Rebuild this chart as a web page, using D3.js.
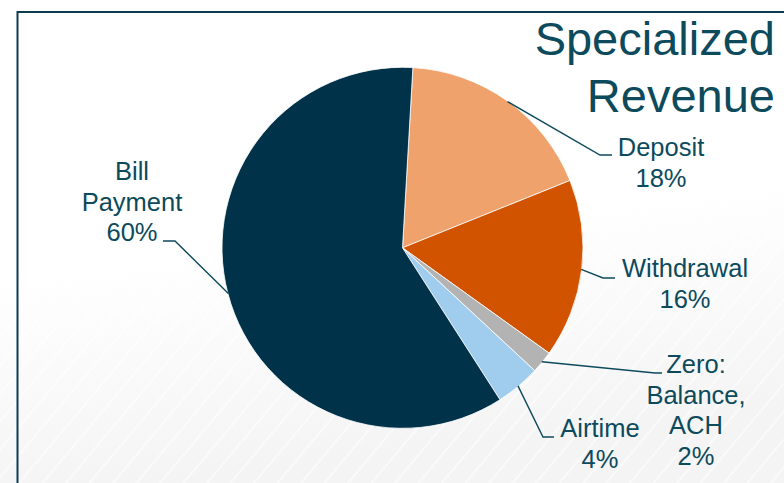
<!DOCTYPE html>
<html>
<head>
<meta charset="utf-8">
<script src="https://cdn.jsdelivr.net/npm/d3@7/dist/d3.min.js"></script>
<style>
  html, body { margin: 0; padding: 0; background: #ffffff; }
  svg { display: block; }
  text { font-family: "Liberation Sans", Arial, sans-serif; }
</style>
</head>
<body>
<svg id="chart" width="784" height="483"></svg>
<script>
// Revenue mix by category (percent of specialized revenue)
const categories = ["Deposit", "Withdrawal", "Zero: Balance, ACH", "Airtime", "Bill Payment"];
const shares = [18, 16, 2, 4, 60];
const labelLines = [["Deposit"], ["Withdrawal"], ["Zero:", "Balance,", "ACH"], ["Airtime"], ["Bill", "Payment"]];
const titleLines = ["Specialized", "Revenue"];

// Styling and layout
const sliceColors = ["#f0a26c", "#d15300", "#b3b3b3", "#a0cdee", "#003349"];
const inkColor = "#0c4a5c";
const width = 784, height = 483;
const cx = 402.5, cy = 247.8, radius = 180.5;
const startOffset = 3.3 * Math.PI / 180;
const lineHeight = 30.5;

// Label placement: text centre, first baseline, leader elbow and leader end
const labelLayout = [
  { x: 661, y: 156, elbow: [600, 155], end: [612, 155] },
  { x: 685, y: 277, elbow: [603, 278], end: [615, 278] },
  { x: 696, y: 373, elbow: [655, 373], end: [662, 373] },
  { x: 600, y: 437, elbow: [543, 437], end: [554, 437] },
  { x: 132, y: 180, elbow: [175, 241], end: [163, 241] }
];

const svg = d3.select("#chart");
const defs = svg.append("defs");

// Soft grey fade toward the bottom with faint diagonal stripes
const fade = defs.append("linearGradient")
  .attr("id", "fade").attr("x1", 0).attr("y1", 0).attr("x2", 0.2).attr("y2", 1);
fade.append("stop").attr("offset", "0.55").attr("stop-color", "#ffffff");
fade.append("stop").attr("offset", "1").attr("stop-color", "#f4f4f4");

const stripes = defs.append("pattern")
  .attr("id", "stripes").attr("patternUnits", "userSpaceOnUse")
  .attr("width", 18).attr("height", 18)
  .attr("patternTransform", "rotate(40)");
stripes.append("rect").attr("x", 0).attr("y", 0).attr("width", 2).attr("height", 18)
  .attr("fill", "#ffffff").attr("opacity", 0.5);

svg.append("rect").attr("width", width).attr("height", height).attr("fill", "url(#fade)");
svg.append("rect").attr("width", width).attr("height", height).attr("fill", "url(#stripes)");

// Frame (top and left edges)
svg.append("path")
  .attr("d", d3.line()([[17.5, height + 5], [17.5, 12], [width + 5, 12]]))
  .attr("fill", "none").attr("stroke", "#0a3d52").attr("stroke-width", 2);

// Title
svg.append("text")
  .attr("text-anchor", "end")
  .attr("fill", inkColor)
  .attr("font-size", 47)
  .selectAll("tspan")
  .data(titleLines)
  .join("tspan")
  .attr("x", 775)
  .attr("y", (d, i) => 55 + i * 57)
  .text(d => d);

// Pie
const data = categories.map((c, i) => ({ category: c, value: shares[i], lines: labelLines[i], layout: labelLayout[i] }));
const pie = d3.pie().sort(null).value(d => d.value)
  .startAngle(startOffset).endAngle(startOffset + 2 * Math.PI);
const arcs = pie(data);
const arc = d3.arc().innerRadius(0).outerRadius(radius);
const edgeArc = d3.arc().innerRadius(radius - 0.5).outerRadius(radius - 0.5);

const g = svg.append("g").attr("transform", `translate(${cx},${cy})`);
g.selectAll("path.slice")
  .data(arcs)
  .join("path")
  .attr("class", "slice")
  .attr("d", arc)
  .attr("fill", (d, i) => sliceColors[i])
  .attr("stroke", "#ffffff")
  .attr("stroke-width", 0.8)
  .attr("stroke-linejoin", "round");

// Leader lines from each slice edge to its label
svg.append("g").selectAll("path.leader")
  .data(arcs)
  .join("path")
  .attr("class", "leader")
  .attr("d", d => {
    const [ex, ey] = edgeArc.centroid(d);
    return d3.line()([[cx + ex, cy + ey], d.data.layout.elbow, d.data.layout.end]);
  })
  .attr("fill", "none")
  .attr("stroke", inkColor)
  .attr("stroke-width", 1.4);

// Category and percentage labels
const labels = svg.append("g").selectAll("text.label")
  .data(arcs)
  .join("text")
  .attr("class", "label")
  .attr("text-anchor", "middle")
  .attr("fill", inkColor)
  .attr("font-size", 25.5);

labels.selectAll("tspan")
  .data(d => d.data.lines.concat([d3.format(".0f")(d.data.value) + "%"]).map((t, i) => ({ t, i, layout: d.data.layout })))
  .join("tspan")
  .attr("x", d => d.layout.x)
  .attr("y", d => d.layout.y + d.i * lineHeight)
  .text(d => d.t);
</script>
</body>
</html>
